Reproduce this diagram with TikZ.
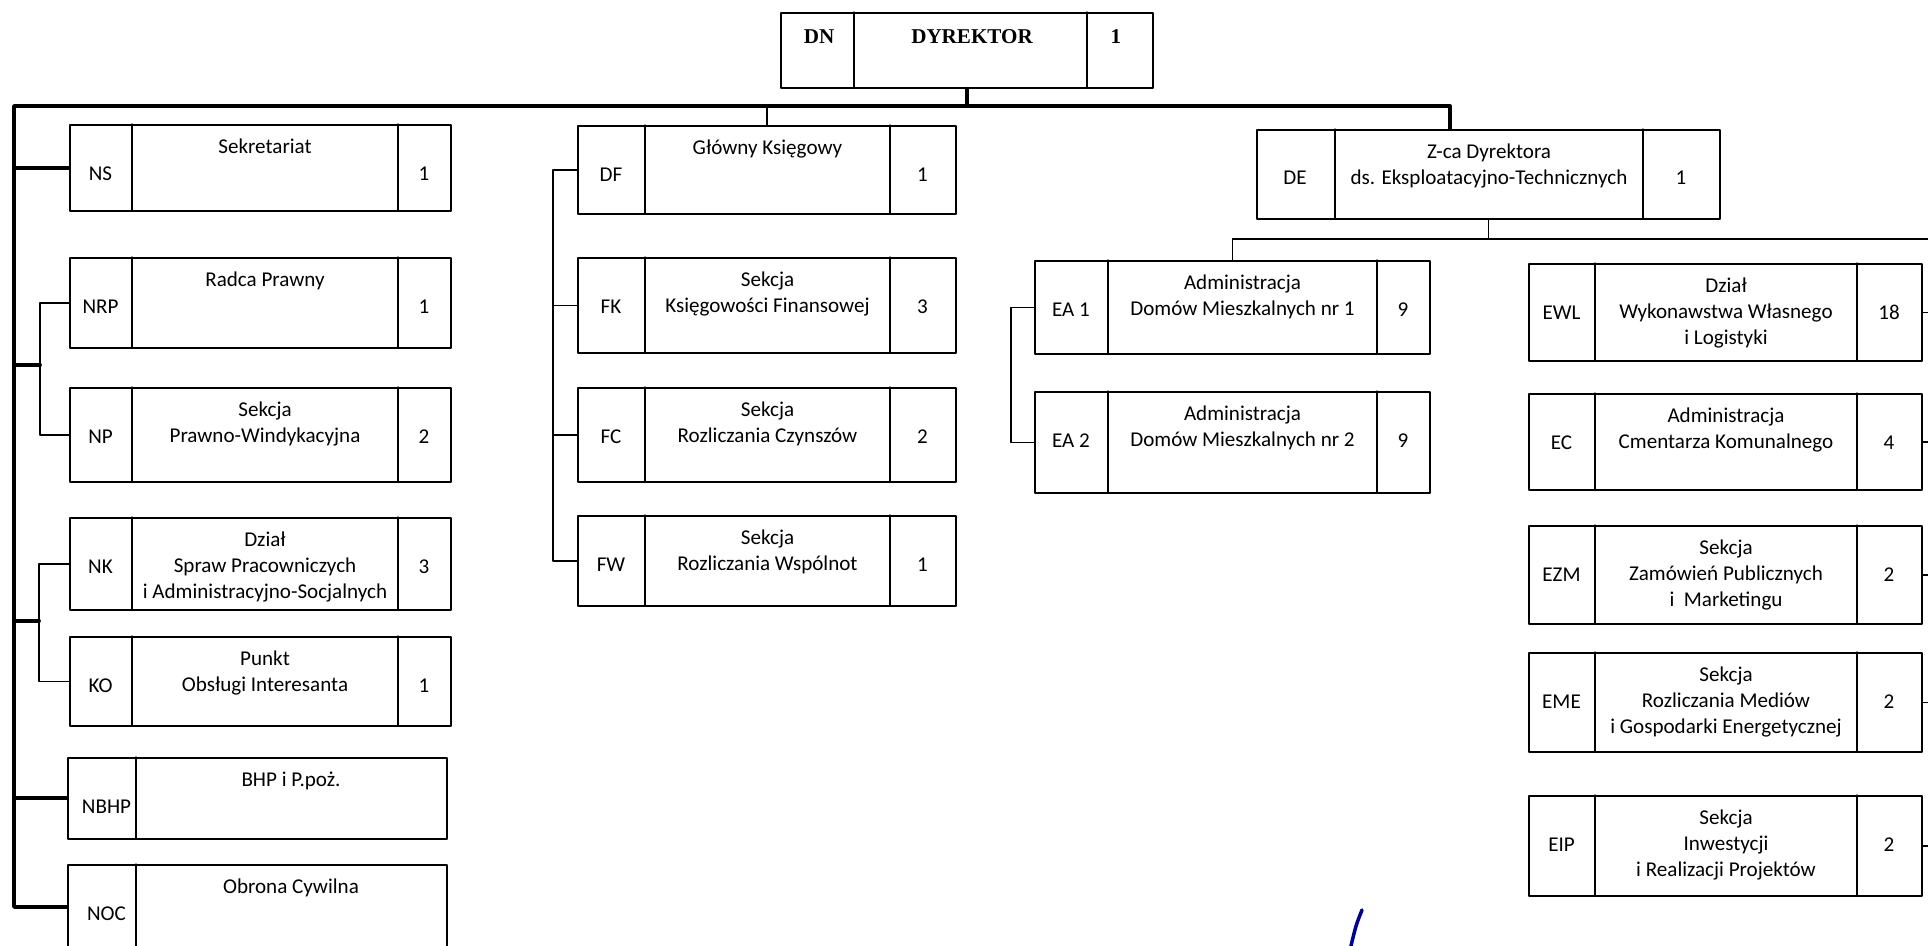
\documentclass[tikz,border=0pt]{standalone}
\usepackage{fontspec}
\setmainfont{Carlito}
\newfontfamily\timesfont{Liberation Serif}
\begin{document}
\begin{tikzpicture}[x=0.02cm, y=-0.02cm, line join=round, line cap=round,
  font=\fontsize{12}{14.7}\selectfont,
  unitbox/.style={draw, rectangle, line width=1pt, inner sep=0pt, anchor=north west},
  divider/.style={line width=0.7pt},
  main/.style={line width=2.2pt},
  twig/.style={line width=0.8pt},
  lbl/.style={inner sep=0pt, anchor=base},
  dept/.style={inner sep=0pt, anchor=north, align=center}]
 \clip (0,0) rectangle (1928,946);
 % dyrektor
 \node[unitbox, minimum width={372*0.02cm}, minimum height={75*0.02cm}] (dn) at (780,12) {};
 \draw[divider] (854,12)--(854,87) (1087,12)--(1087,87);
 \node[lbl, font=\timesfont\bfseries\fontsize{12}{14}\selectfont] at (819,44) {DN};
 \node[lbl, font=\timesfont\bfseries\fontsize{12}{14}\selectfont] at (972,44) {DYREKTOR};
 \node[lbl, font=\timesfont\bfseries\fontsize{12}{14}\selectfont] at (1116,44) {1};
 % zastepca
 \node[unitbox, minimum width={463*0.02cm}, minimum height={89*0.02cm}] (de) at (1256,129) {};
 \draw[divider] (1335,129)--(1335,218) (1643,129)--(1643,218);
 \node[lbl] at (1295,185) {DE};
 \node[dept] at (1489,140) {\strut Z-ca Dyrektora\\ds. Eksploatacyjno-Technicznych};
 \node[lbl] at (1681,185) {1};
 % left column
 \def\xa{69} \def\da{132} \def\db{398} \def\xb{450}
 \foreach \n/\ya/\yb/\abbr/\txt/\cnt in {ns/124/210/NS/Sekretariat/1,
   nrp/257/347/NRP/Radca Prawny/1, np/387/481/NP/{Sekcja\\Prawno-Windykacyjna}/2,
   nk/517/609/NK/{Dział\\Spraw Pracowniczych\\i Administracyjno-Socjalnych}/3,
   ko/636/725/KO/{Punkt\\Obsługi Interesanta}/1}
 {\node[unitbox, minimum width={(\xb-\xa)*0.02cm}, minimum height={(\yb-\ya)*0.02cm}] (\n) at (\xa,\ya) {};
  \draw[divider] (\da,\ya)--(\da,\yb) (\db,\ya)--(\db,\yb);
  \node[lbl] at ({(\xa+\da)/2},\ya+56) {\abbr};
  \node[dept] at ({(\da+\db)/2},\ya+11) {\strut\txt};
  \node[lbl] at ({(\db+\xb)/2},\ya+56) {\cnt};}
 \foreach \n/\ya/\yb/\abbr/\txt in {nbhp/757/838/NBHP/{BHP i P.poż.}, noc/864/948/NOC/Obrona Cywilna}
 {\node[unitbox, minimum width={(\xb-\xa-2)*0.02cm}, minimum height={(\yb-\ya)*0.02cm}] (\n) at (\xa-2,\ya) {};
  \draw[divider] (\da+4,\ya)--(\da+4,\yb);
  \node[lbl] at ({(\xa+\da)/2+6},\ya+56) {\abbr};
  \node[dept] at ({(\da+\xb)/2},\ya+11) {\strut\txt};}
 % middle column
 \def\xa{577} \def\da{645} \def\db{890} \def\xb{955}
 \foreach \n/\ya/\yb/\abbr/\txt/\cnt in {df/125/213/DF/Główny Księgowy/1,
   fk/257/352/FK/{Sekcja\\Księgowości Finansowej}/3, fc/387/481/FC/{Sekcja\\Rozliczania Czynszów}/2,
   fw/515/605/FW/{Sekcja\\Rozliczania Wspólnot}/1}
 {\node[unitbox, minimum width={(\xb-\xa)*0.02cm}, minimum height={(\yb-\ya)*0.02cm}] (\n) at (\xa,\ya) {};
  \draw[divider] (\da,\ya)--(\da,\yb) (\db,\ya)--(\db,\yb);
  \node[lbl] at ({(\xa+\da)/2},\ya+56) {\abbr};
  \node[dept] at ({(\da+\db)/2},\ya+11) {\strut\txt};
  \node[lbl] at ({(\db+\xb)/2},\ya+56) {\cnt};}
 % administracje
 \def\xa{1034} \def\da{1108} \def\db{1377} \def\xb{1429}
 \foreach \n/\ya/\yb/\abbr/\txt/\cnt in {ea1/260/353/EA 1/{Administracja\\Domów Mieszkalnych nr 1}/9,
   ea2/391/492/EA 2/{Administracja\\Domów Mieszkalnych nr 2}/9}
 {\node[unitbox, minimum width={(\xb-\xa)*0.02cm}, minimum height={(\yb-\ya)*0.02cm}] (\n) at (\xa,\ya) {};
  \draw[divider] (\da,\ya)--(\da,\yb) (\db,\ya)--(\db,\yb);
  \node[lbl] at ({(\xa+\da)/2},\ya+56) {\abbr};
  \node[dept] at ({(\da+\db)/2},\ya+11) {\strut\txt};
  \node[lbl] at ({(\db+\xb)/2},\ya+56) {\cnt};}
 % right column
 \def\xa{1528} \def\da{1595} \def\db{1857} \def\xb{1921}
 \foreach \n/\ya/\yb/\abbr/\txt/\cnt in {ewl/263/360/EWL/{Dział\\Wykonawstwa Własnego\\i Logistyki}/18,
   ec/393/489/EC/{Administracja\\Cmentarza Komunalnego}/4,
   ezm/525/623/EZM/{Sekcja\\Zamówień Publicznych\\i\ \ Marketingu}/2,
   eme/652/751/EME/{Sekcja\\Rozliczania Mediów\\i Gospodarki Energetycznej}/2,
   eip/795/895/EIP/{Sekcja\\Inwestycji\\i Realizacji Projektów}/2}
 {\node[unitbox, minimum width={(\xb-\xa)*0.02cm}, minimum height={(\yb-\ya)*0.02cm}] (\n) at (\xa,\ya) {};
  \draw[divider] (\da,\ya)--(\da,\yb) (\db,\ya)--(\db,\yb);
  \node[lbl] at ({(\xa+\da)/2},\ya+56) {\abbr};
  \node[dept] at ({(\da+\db)/2},\ya+11) {\strut\txt};
  \node[lbl] at ({(\db+\xb)/2},\ya+56) {\cnt};}
 % connectors
 \coordinate (spine) at (14,106);
 \coordinate (dedrop) at (1450,106);
 \coordinate (nbr) at (40,365);
 \coordinate (kbr) at (39,621);
 \coordinate (fbr) at (553,0);
 \coordinate (eabr) at (1011,0);
 \coordinate (ebar) at (1940,239);
 \draw[main] (dn.south) -- (dn.south |- spine);
 \draw[main] (dedrop |- de.north) -- (dedrop) -- (spine) -- (spine |- noc.west) -- (noc.west);
 \foreach \n in {ns,nbhp} \draw[main] (spine |- \n.west) -- (\n.west);
 \draw[main] (spine |- nbr) -- (nbr);
 \draw[main] (spine |- kbr) -- (kbr);
 \draw[twig] (nrp.west) -- (nrp.west -| nbr) |- (np.west);
 \draw[twig] (nk.west) -- (nk.west -| kbr) |- (ko.west);
 \draw[twig] (df.north) -- (df.north |- spine);
 \draw[twig] (df.west) -- (df.west -| fbr) |- (fw.west);
 \foreach \n in {fk,fc} \draw[twig] (\n.west -| fbr) -- (\n.west);
 \draw[twig] (de.south) -- (de.south |- ebar);
 \draw[twig] (ea1.north) |- (ebar) |- (eip.east);
 \draw[twig] (ea1.west) -- (ea1.west -| eabr) |- (ea2.west);
 \foreach \n in {ewl,ec,ezm,eme} \draw[twig] (\n.east) -- (\n.east -| ebar);
 % podpis
 \draw[blue!60!black, line width=2pt] (1362,910) .. controls (1356,925) .. (1350,950);
\end{tikzpicture}
\end{document}
